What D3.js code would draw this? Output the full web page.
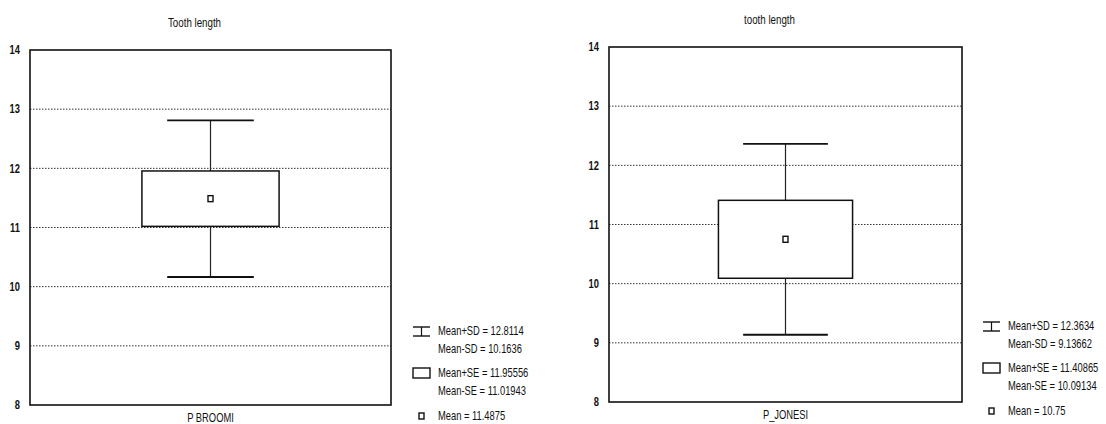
<!DOCTYPE html>
<html><head><meta charset="utf-8">
<script src="https://cdn.jsdelivr.net/npm/d3@7"></script>
<style>
body{margin:0;background:#fff;}
text{font-family:"Liberation Sans Narrow","Arial Narrow","Liberation Sans",Arial,sans-serif;fill:#111;}
</style></head>
<body><svg id="c" width="1106" height="424"></svg>
<script>
const groups = ["P BROOMI", "P_JONESI"];
const titles = ["Tooth length", "tooth length"];
const means = [11.4875, 10.75];
const sdPlus = [12.8114, 12.3634];
const sdMinus = [10.1636, 9.13662];
const sePlus = [11.95556, 11.40865];
const seMinus = [11.01943, 10.09134];
const yTicks = [8, 9, 10, 11, 12, 13, 14];
const meanLabels = ["11.4875", "10.75"];
const sdPlusLabels = ["12.8114", "12.3634"];
const sdMinusLabels = ["10.1636", "9.13662"];
const sePlusLabels = ["11.95556", "11.40865"];
const seMinusLabels = ["11.01943", "10.09134"];

const svg = d3.select("#c");
const SX = 0.78; // condense glyphs to imitate a narrow face
function ctext(parent, x, y, str, size, anchor, weight) {
  return parent.append("text")
    .attr("transform", `translate(${x},${y}) scale(${SX},1)`)
    .attr("dy", "0.35em")
    .attr("text-anchor", anchor || "start")
    .attr("font-size", size)
    .attr("font-weight", weight || "normal")
    .text(str);
}

const panels = [
  {x0: 30, x1: 391, y0: 50, y1: 405, titleDx: -16, legX: 413, legY: 331},
  {x0: 609, x1: 962, y0: 47, y1: 402, titleDx: -16, legX: 983, legY: 326}
];

panels.forEach((p, i) => {
  const g = svg.append("g");
  const y = d3.scaleLinear().domain([8, 14]).range([p.y1, p.y0]);
  const x = d3.scaleBand().domain([groups[i]]).range([p.x0, p.x1]).paddingOuter(0.816).paddingInner(0);
  const cx = x(groups[i]) + x.bandwidth() / 2;
  const capW = (p.x1 - p.x0) * 0.24;

  // gridlines
  g.selectAll(".grid").data(yTicks.filter(t => t > 8 && t < 14)).join("line")
    .attr("x1", p.x0).attr("x2", p.x1)
    .attr("y1", d => y(d)).attr("y2", d => y(d))
    .attr("stroke", "#333").attr("stroke-width", 1).attr("stroke-dasharray", "1.5,1.5");

  // y axis labels
  yTicks.forEach(t => {
    ctext(g, p.x0 - 10, y(t), d3.format("d")(t), 12, "end", "bold");
  });

  // frame
  g.append("rect").attr("x", p.x0).attr("y", p.y0).attr("width", p.x1 - p.x0).attr("height", p.y1 - p.y0)
    .attr("fill", "none").attr("stroke", "#111").attr("stroke-width", 1.6);

  // whiskers
  g.append("line").attr("x1", cx).attr("x2", cx).attr("y1", y(sdPlus[i])).attr("y2", y(sePlus[i]))
    .attr("stroke", "#222").attr("stroke-width", 1.2);
  g.append("line").attr("x1", cx).attr("x2", cx).attr("y1", y(seMinus[i])).attr("y2", y(sdMinus[i]))
    .attr("stroke", "#222").attr("stroke-width", 1.2);
  [sdPlus[i], sdMinus[i]].forEach(v => {
    g.append("line").attr("x1", cx - capW / 2).attr("x2", cx + capW / 2).attr("y1", y(v)).attr("y2", y(v))
      .attr("stroke", "#111").attr("stroke-width", 1.8);
  });
  // box
  g.append("rect").attr("x", x(groups[i])).attr("width", x.bandwidth())
    .attr("y", y(sePlus[i])).attr("height", y(seMinus[i]) - y(sePlus[i]))
    .attr("fill", "#fff").attr("stroke", "#111").attr("stroke-width", 1.5);
  // mean marker
  g.append("rect").attr("x", cx - 2.5).attr("y", y(means[i]) - 3).attr("width", 5).attr("height", 6)
    .attr("fill", "#fff").attr("stroke", "#111").attr("stroke-width", 1.4);

  // title
  ctext(g, (p.x0 + p.x1) / 2 + p.titleDx, p.y0 - 27, titles[i], 12.5, "middle");
  // x label
  ctext(g, cx, p.y1 + 13, groups[i], 12, "middle");

  // legend
  const L = svg.append("g").attr("transform", `translate(${p.legX},${p.legY})`);
  const iw = 17;
  L.append("line").attr("x1", 0).attr("x2", iw).attr("y1", -4).attr("y2", -4).attr("stroke", "#111").attr("stroke-width", 1.4);
  L.append("line").attr("x1", 0).attr("x2", iw).attr("y1", 5).attr("y2", 5).attr("stroke", "#111").attr("stroke-width", 1.4);
  L.append("line").attr("x1", iw / 2).attr("x2", iw / 2).attr("y1", -4).attr("y2", 5).attr("stroke", "#111").attr("stroke-width", 1.2);
  L.append("rect").attr("x", 0).attr("y", 37).attr("width", iw).attr("height", 10)
    .attr("fill", "#fff").attr("stroke", "#111").attr("stroke-width", 1.4);
  L.append("rect").attr("x", iw / 2 - 2.5).attr("y", 82).attr("width", 5).attr("height", 6)
    .attr("fill", "#fff").attr("stroke", "#111").attr("stroke-width", 1.4);
  const tx = 25;
  const lines = [
    [0, "Mean+SD = " + sdPlusLabels[i]],
    [18, "Mean-SD = " + sdMinusLabels[i]],
    [42, "Mean+SE = " + sePlusLabels[i]],
    [60, "Mean-SE = " + seMinusLabels[i]],
    [85, "Mean = " + meanLabels[i]]
  ];
  lines.forEach(d => ctext(L, tx, d[0], d[1], 12));
});
</script></body></html>
